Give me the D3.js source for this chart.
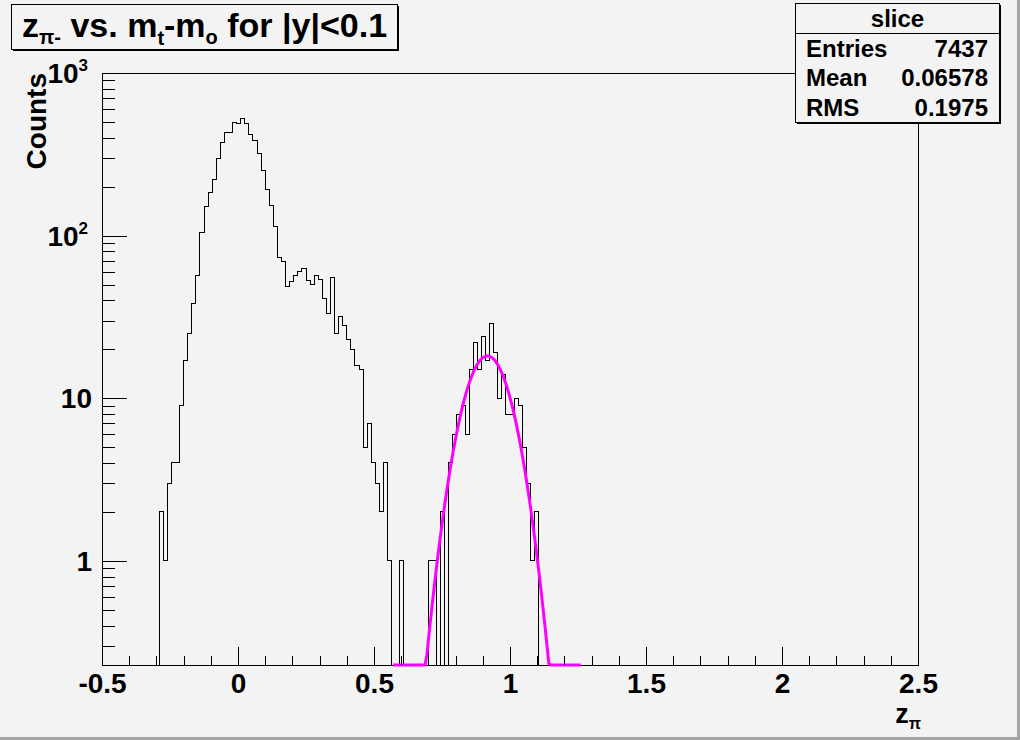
<!DOCTYPE html>
<html><head><meta charset="utf-8">
<script src="https://cdn.jsdelivr.net/npm/d3@7"></script>
<style>
html,body{margin:0;padding:0;background:#f3f3f3;}
svg{display:block;}
text{font-family:"Liberation Sans",Arial,Helvetica,sans-serif;font-weight:bold;fill:#000;}
</style></head><body>
<svg id="c" width="1020" height="740"></svg>
<script>
// ---------------- data ----------------
const histLow = -0.5, histHigh = 2.5, binWidth = 0.015;   // 200 bins
const firstFilledBin = 14;                                  // counts below start at this bin
const counts = [
  2, 1, 3, 4, 4, 9, 17, 25, 38,                             // bins 14-22
  57, 105, 150, 183, 220, 296, 376, 433, 433, 499,          // bins 23-32
  487, 527, 487, 421, 386, 322, 252, 191, 154, 113,         // bins 33-42
  73, 69, 49, 52, 57, 60, 63, 53, 50, 57,                   // bins 43-52
  54, 41, 33, 55, 25, 32, 28, 23, 20, 16,                   // bins 53-62
  15, 5, 7, 4, 3, 2, 4, 1, 0, 0,                            // bins 63-72
  1, 0, 0, 0, 0, 0, 0, 1, 1, 0,                             // bins 73-82
  2, 0, 4, 6, 8, 9, 6, 15, 22, 15,                          // bins 83-92
  24, 17, 29, 19, 10, 14, 8, 8, 10, 9,                      // bins 93-102
  5, 3, 1, 2                                                // bins 103-106
];
// gaussian fit (TF1 "gaus") parameters and range
const fitConstant = 18.2, fitMean = 0.917, fitSigma = 0.0765;
const fitRange = [0.57, 1.26];
// axes
const xTickValues = [-0.5, 0, 0.5, 1, 1.5, 2, 2.5];
const xTickLabels = ["-0.5", "0", "0.5", "1", "1.5", "2", "2.5"];
const yTickValues = [1, 10, 100, 1000];
const yTickBase = ["1", "10", "10", "10"];
const yTickExp = ["", "", "2", "3"];
const yMin = 0.229, yMax = 1000;
// stats
const statsTitle = "slice";
const statsNames = ["Entries", "Mean", "RMS"];
const statsValues = ["7437", "0.06578", "0.1975"];

// ---------------- layout ----------------
const BG = "#f3f3f3";
const L = 102, R = 918, T = 73, B = 665;
const svg = d3.select("#c");
svg.append("rect").attr("width", 1020).attr("height", 740).attr("fill", BG);
svg.append("rect").attr("x", 1017).attr("y", 0).attr("width", 3).attr("height", 740).attr("fill", "#a6a6a6");
svg.append("rect").attr("x", 0).attr("y", 737).attr("width", 1020).attr("height", 3).attr("fill", "#a6a6a6");

const x = d3.scaleLinear().domain([histLow, histHigh]).range([L, R]);
const y = d3.scaleLog().domain([yMin, yMax]).range([B, T]);

// frame
svg.append("rect").attr("x", L).attr("y", T).attr("width", R - L).attr("height", B - T)
  .attr("fill", BG).attr("stroke", "#000").attr("stroke-width", 1).attr("shape-rendering", "crispEdges");

// histogram
const nBins = Math.round((histHigh - histLow) / binWidth);
const pts = [[histLow, yMin]];
for (let i = 0; i < nBins; i++) {
  const j = i - firstFilledBin;
  const v = (j >= 0 && j < counts.length) ? counts[j] : 0;
  const vv = Math.max(v, yMin);
  pts.push([histLow + i * binWidth, vv]);
  pts.push([histLow + (i + 1) * binWidth, vv]);
}
pts.push([histHigh, yMin]);
const line = d3.line().x(d => x(d[0])).y(d => y(d[1]));
svg.append("path").attr("d", line(pts)).attr("fill", "none").attr("stroke", "#000")
  .attr("stroke-width", 1).attr("shape-rendering", "crispEdges");

// fit curve
const fitX = d3.range(101).map(i => fitRange[0] + i * (fitRange[1] - fitRange[0]) / 100);
const fitPts = fitX.map(v => [v, Math.max(yMin, fitConstant * Math.exp(-0.5 * Math.pow((v - fitMean) / fitSigma, 2)))]);
svg.append("path").attr("d", line(fitPts)).attr("fill", "none").attr("stroke", "#ff00ff")
  .attr("stroke-width", 3).attr("stroke-linejoin", "round");

// x axis
const xMinor = d3.range(-5, 26).map(k => k / 10).filter(v => !xTickValues.some(t => Math.abs(t - v) < 1e-9));
const gxMinor = svg.append("g").attr("transform", `translate(0,${B})`)
  .call(d3.axisBottom(x).tickValues(xMinor).tickSize(-9).tickFormat(""));
const gx = svg.append("g").attr("transform", `translate(0,${B})`)
  .call(d3.axisBottom(x).tickValues(xTickValues).tickSize(-18).tickPadding(8)
    .tickFormat((d, i) => xTickLabels[i]));
[gx, gxMinor].forEach(g => { g.select(".domain").remove(); g.selectAll("line").attr("stroke", "#000").attr("shape-rendering", "crispEdges"); });
gx.selectAll("text").attr("font-size", 28).attr("font-family", null).attr("fill", "#000");

// y axis
const yMinor = [];
for (let e = -1; e < 3; e++) for (let k = 2; k <= 9; k++) { const v = k * Math.pow(10, e); if (v >= yMin && v < yMax) yMinor.push(v); }
const gyMinor = svg.append("g").attr("transform", `translate(${L},0)`)
  .call(d3.axisLeft(y).tickValues(yMinor).tickSize(-12.5).tickFormat(""));
const gy = svg.append("g").attr("transform", `translate(${L},0)`)
  .call(d3.axisLeft(y).tickValues(yTickValues).tickSize(-24.5).tickFormat(""));
[gy, gyMinor].forEach(g => { g.select(".domain").remove(); g.selectAll("line").attr("stroke", "#000").attr("shape-rendering", "crispEdges"); });
yTickValues.forEach((v, i) => {
  const t = svg.append("text").attr("text-anchor", "end").attr("font-size", 28)
    .attr("x", yTickExp[i] ? 88 : 92).attr("y", y(v) + 10);
  t.append("tspan").text(yTickBase[i]);
  if (yTickExp[i]) t.append("tspan").attr("font-size", 17).attr("dy", -12).text(yTickExp[i]);
});

// axis titles
svg.append("text").attr("transform", `translate(46,${T}) rotate(-90)`).attr("text-anchor", "end")
  .attr("font-size", 28).text("Counts");
const xt = svg.append("text").attr("x", 921).attr("y", 723).attr("text-anchor", "end").attr("font-size", 27);
xt.append("tspan").text("z");
xt.append("tspan").attr("font-size", 16).attr("dy", 6).text("π");

// title box
const tb = { x: 11.5, y: 4.5, w: 386, h: 45 };
svg.append("rect").attr("x", tb.x + 1.5).attr("y", tb.y + 1.5).attr("width", tb.w).attr("height", tb.h).attr("fill", "#000");
svg.append("rect").attr("x", tb.x).attr("y", tb.y).attr("width", tb.w).attr("height", tb.h)
  .attr("fill", BG).attr("stroke", "#000").attr("stroke-width", 1);
const tt = svg.append("text").attr("x", 22).attr("y", 37).attr("font-size", 34);
tt.append("tspan").text("z");
tt.append("tspan").attr("font-size", 20).attr("dy", 7).text("π-");
tt.append("tspan").attr("dy", -7).text(" vs. m");
tt.append("tspan").attr("font-size", 20).attr("dy", 8).text("t");
tt.append("tspan").attr("dy", -8).text("-m");
tt.append("tspan").attr("font-size", 20).attr("dy", 7).text("o");
tt.append("tspan").attr("dy", -7).text(" for |y|<0.1");

// stats box
const sb = { x: 795.5, y: 3.5, w: 204, h: 119 };
svg.append("rect").attr("x", sb.x + 1.5).attr("y", sb.y + 1.5).attr("width", sb.w).attr("height", sb.h).attr("fill", "#000");
svg.append("rect").attr("x", sb.x).attr("y", sb.y).attr("width", sb.w).attr("height", sb.h)
  .attr("fill", BG).attr("stroke", "#000").attr("stroke-width", 1);
svg.append("line").attr("x1", sb.x).attr("x2", sb.x + sb.w).attr("y1", 33.5).attr("y2", 33.5).attr("stroke", "#000");
svg.append("text").attr("x", sb.x + sb.w / 2).attr("y", 27).attr("text-anchor", "middle").attr("font-size", 24).text(statsTitle);
statsNames.forEach((n, i) => {
  const yy = 57 + i * 29.3;
  svg.append("text").attr("x", 806).attr("y", yy).attr("font-size", 24).text(n);
  svg.append("text").attr("x", 988).attr("y", yy).attr("text-anchor", "end").attr("font-size", 24).text(statsValues[i]);
});
</script></body></html>
